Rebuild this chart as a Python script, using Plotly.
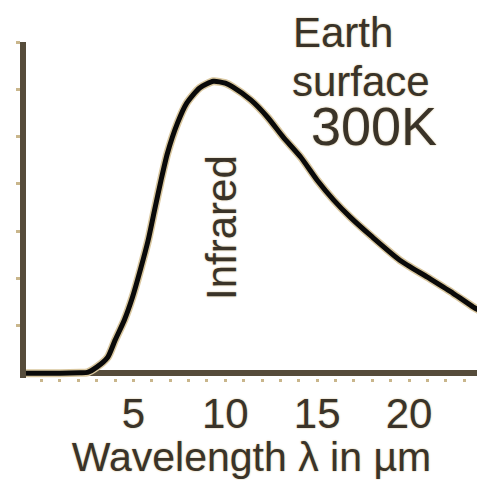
import plotly.graph_objects as go

# Curve (wavelength in µm, relative spectral radiance in y-tick units)
wavelength_um = [-0.9, 1.0, 2.1, 2.5, 3.0, 3.6, 4.0, 4.5, 4.95, 5.4, 5.8, 6.15, 6.5,
                 6.85, 7.4, 7.9, 8.6, 9.35, 10.0, 10.4, 11.4, 12.3, 13.15, 14.1, 15.0,
                 15.9, 16.8, 18.0, 19.5, 21.0, 22.4, 23.5, 23.9]
radiance = [0, 0, 0.01, 0.02, 0.13, 0.34, 0.70, 1.12, 1.61, 2.22, 2.81, 3.45, 4.08,
            4.65, 5.29, 5.71, 6.03, 6.17, 6.13, 6.05, 5.77, 5.41, 4.99, 4.57, 4.08,
            3.66, 3.30, 2.88, 2.39, 2.03, 1.69, 1.40, 1.31]

x_tickvals = list(range(0, 24))
x_labels = {5: "5", 10: "10", 15: "15", 20: "20"}
x_ticktext = [x_labels.get(v, "") for v in x_tickvals]
y_tickvals = [1, 2, 3, 4, 5, 6, 7]

x_title = "Wavelength λ in µm"
label_band = "Infrared"
label_line1 = "Earth"
label_line2 = "surface"
label_line3 = "300K"

FONT = "Liberation Sans, Arial, Helvetica, sans-serif"
TXT = "#3a3328"
TAN = "#d9c79f"
AXIS = "#564c3b"
SHADOW = "0px 0px 2px #cdb88a"

fig = go.Figure()
fig.add_trace(go.Scatter(x=wavelength_um, y=radiance, mode="lines",
                         line=dict(color=TAN, width=8, shape="spline", smoothing=0.6),
                         hoverinfo="skip", showlegend=False))
fig.add_trace(go.Scatter(x=wavelength_um, y=radiance, mode="lines",
                         line=dict(color="#0a0a0a", width=5, shape="spline", smoothing=0.6),
                         showlegend=False))

fig.update_layout(
    width=477, height=480,
    margin=dict(l=26, r=0, t=42, b=102),
    paper_bgcolor="white", plot_bgcolor="white",
    font=dict(family=FONT, color=TXT),
    showlegend=False,
    xaxis=dict(range=[-0.85, 23.7], showgrid=False, zeroline=False, showline=False,
               tickmode="array", tickvals=x_tickvals, ticktext=x_ticktext,
               ticks="outside", ticklen=3, tickwidth=3, tickcolor="#c9b68c",
               ticklabelstandoff=-4,
               tickfont=dict(size=42, color=TXT, family=FONT, shadow=SHADOW),
               title=dict(text=x_title, font=dict(size=41, color=TXT, family=FONT, shadow=SHADOW),
                          standoff=5)),
    yaxis=dict(range=[-0.1, 7], showgrid=False,
               zeroline=True, zerolinecolor=AXIS, zerolinewidth=6,
               showline=True, linecolor=AXIS, linewidth=6,
               tickmode="array", tickvals=y_tickvals, showticklabels=False,
               ticks="outside", ticklen=4, tickwidth=3, tickcolor="#c9b68c"),
)

fig.add_annotation(x=9.82, y=3.07, xref="x", yref="y", text=label_band, textangle=-90,
                   showarrow=False, font=dict(size=42, color=TXT, family=FONT, shadow=SHADOW),
                   xanchor="center", yanchor="middle")
fig.add_annotation(x=0.587, y=1.027, xref="paper", yref="paper", text=label_line1,
                   showarrow=False, font=dict(size=42, color=TXT, family=FONT, shadow=SHADOW),
                   xanchor="left", yanchor="middle")
fig.add_annotation(x=0.585, y=0.881, xref="paper", yref="paper", text=label_line2,
                   showarrow=False, font=dict(size=42, color=TXT, family=FONT, shadow=SHADOW),
                   xanchor="left", yanchor="middle")
fig.add_annotation(x=0.915, y=0.749, xref="paper", yref="paper", text=label_line3,
                   showarrow=False, font=dict(size=54, color=TXT, family=FONT, shadow=SHADOW),
                   xanchor="right", yanchor="middle")

fig.write_html("out.html", config={"displayModeBar": False},
               post_script="document.body.style.margin='0';document.body.style.overflow='hidden';")
